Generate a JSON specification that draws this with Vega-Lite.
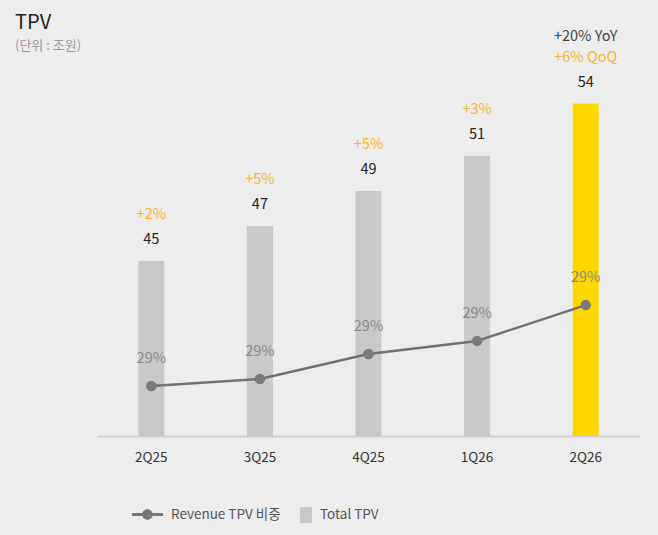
{
  "$schema": "https://vega.github.io/schema/vega-lite/v6.json",
  "width": 543,
  "height": 385,
  "autosize": "none",
  "padding": {"left": 97, "top": 51, "right": 18, "bottom": 99},
  "background": "#ededed",
  "config": {
    "view": {"stroke": null},
    "font": "Noto Sans CJK KR",
    "text": {"font": "Noto Sans CJK KR"}
  },
  "title": {
    "text": "TPV",
    "subtitle": "(단위 : 조원)",
    "anchor": "start",
    "frame": "group",
    "orient": "top",
    "dx": -82,
    "dy": 24,
    "offset": 0,
    "fontSize": 20,
    "fontWeight": "normal",
    "color": "#222222",
    "subtitleFontSize": 13,
    "subtitleColor": "#9a9a9a",
    "subtitlePadding": 7,
    "font": "Noto Sans CJK KR",
    "subtitleFont": "Noto Sans CJK KR"
  },
  "data": {
    "values": [
      {"q": "2Q25", "tpv": 45, "growth": "+2%", "rev": 13.0, "share": "29%", "series": "Total TPV", "line": "Revenue TPV 비중"},
      {"q": "3Q25", "tpv": 47, "growth": "+5%", "rev": 14.8, "share": "29%", "series": "Total TPV", "line": "Revenue TPV 비중"},
      {"q": "4Q25", "tpv": 49, "growth": "+5%", "rev": 21.3, "share": "29%", "series": "Total TPV", "line": "Revenue TPV 비중"},
      {"q": "1Q26", "tpv": 51, "growth": "+3%", "rev": 24.7, "share": "29%", "series": "Total TPV", "line": "Revenue TPV 비중"},
      {"q": "2Q26", "tpv": 54, "growth": "+6% QoQ", "yoy": "+20% YoY", "rev": 34.0, "share": "29%", "series": "Total TPV", "line": "Revenue TPV 비중"}
    ]
  },
  "encoding": {
    "x": {
      "field": "q",
      "type": "nominal",
      "sort": null,
      "scale": {"type": "band", "paddingInner": 0, "paddingOuter": 0},
      "axis": {
        "title": null,
        "labelAngle": 0,
        "ticks": false,
        "labelPadding": 14,
        "labelFontSize": 13.5,
        "labelColor": "#333333",
        "labelFont": "Noto Sans CJK KR",
        "domainColor": "#d2d2d2",
        "domainWidth": 2,
        "grid": false
      }
    }
  },
  "layer": [
    {
      "encoding": {
        "y": {"field": "tpv", "type": "quantitative", "scale": {"domain": [35, 57], "zero": false}, "axis": null}
      },
      "layer": [
        {
          "mark": {"type": "bar", "size": 26},
          "encoding": {
            "y2": {"datum": 35},
            "color": {
              "field": "series",
              "type": "nominal",
              "scale": {"domain": ["Total TPV"], "range": ["#c9c9c9"]},
              "condition": {"test": "datum.q === '2Q26'", "value": "#ffd700"},
              "legend": {
                "orient": "none",
                "legendX": 201,
                "legendY": 456,
                "title": null,
                "padding": 0,
                "symbolType": "M-0.75,-1H0.75V1H-0.75Z",
                "symbolSize": 256,
                "symbolStrokeWidth": 0,
                "labelFontSize": 13.5,
                "labelColor": "#555555",
                "labelFont": "Noto Sans CJK KR",
                "labelOffset": 6
              }
            }
          }
        },
        {
          "mark": {"type": "text", "dy": -21, "fontSize": 14.5, "color": "#222222"},
          "encoding": {"text": {"field": "tpv", "type": "quantitative"}}
        },
        {
          "mark": {"type": "text", "dy": -46, "fontSize": 14.5, "color": "#f7b52c"},
          "encoding": {"text": {"field": "growth", "type": "nominal"}}
        },
        {
          "transform": [{"filter": "datum.yoy != null"}],
          "mark": {"type": "text", "dy": -67, "fontSize": 14.5, "color": "#444444"},
          "encoding": {"text": {"field": "yoy", "type": "nominal"}}
        }
      ]
    },
    {
      "encoding": {
        "y": {"field": "rev", "type": "quantitative", "scale": {"domain": [0, 100]}, "axis": null}
      },
      "layer": [
        {
          "mark": {"type": "line", "strokeWidth": 2.5},
          "encoding": {
            "stroke": {
              "field": "line",
              "type": "nominal",
              "scale": {"domain": ["Revenue TPV 비중"], "range": ["#717171"]},
              "legend": {
                "orient": "none",
                "legendX": 35,
                "legendY": 448,
                "title": null,
                "padding": 0,
                "symbolType": "M-1,-0.1H1V0.1H-1Z M-0.34,0A0.34,0.34 0 1,1 0.34,0A0.34,0.34 0 1,1 -0.34,0Z",
                "symbolSize": 961,
                "symbolStrokeWidth": 0,
                "labelFontSize": 13.5,
                "labelColor": "#555555",
                "labelFont": "Noto Sans CJK KR",
                "labelOffset": 8,
                "encode": {"symbols": {"update": {"fill": {"value": "#777777"}, "strokeWidth": {"value": 0}}}}
              }
            }
          }
        },
        {
          "mark": {"type": "point", "filled": true, "size": 110, "color": "#7a7a7a", "opacity": 1}
        },
        {
          "mark": {"type": "text", "dy": -27, "fontSize": 14.5, "color": "#8a8a8a"},
          "encoding": {"text": {"field": "share", "type": "nominal"}}
        }
      ]
    }
  ],
  "resolve": {"scale": {"y": "independent"}}
}
